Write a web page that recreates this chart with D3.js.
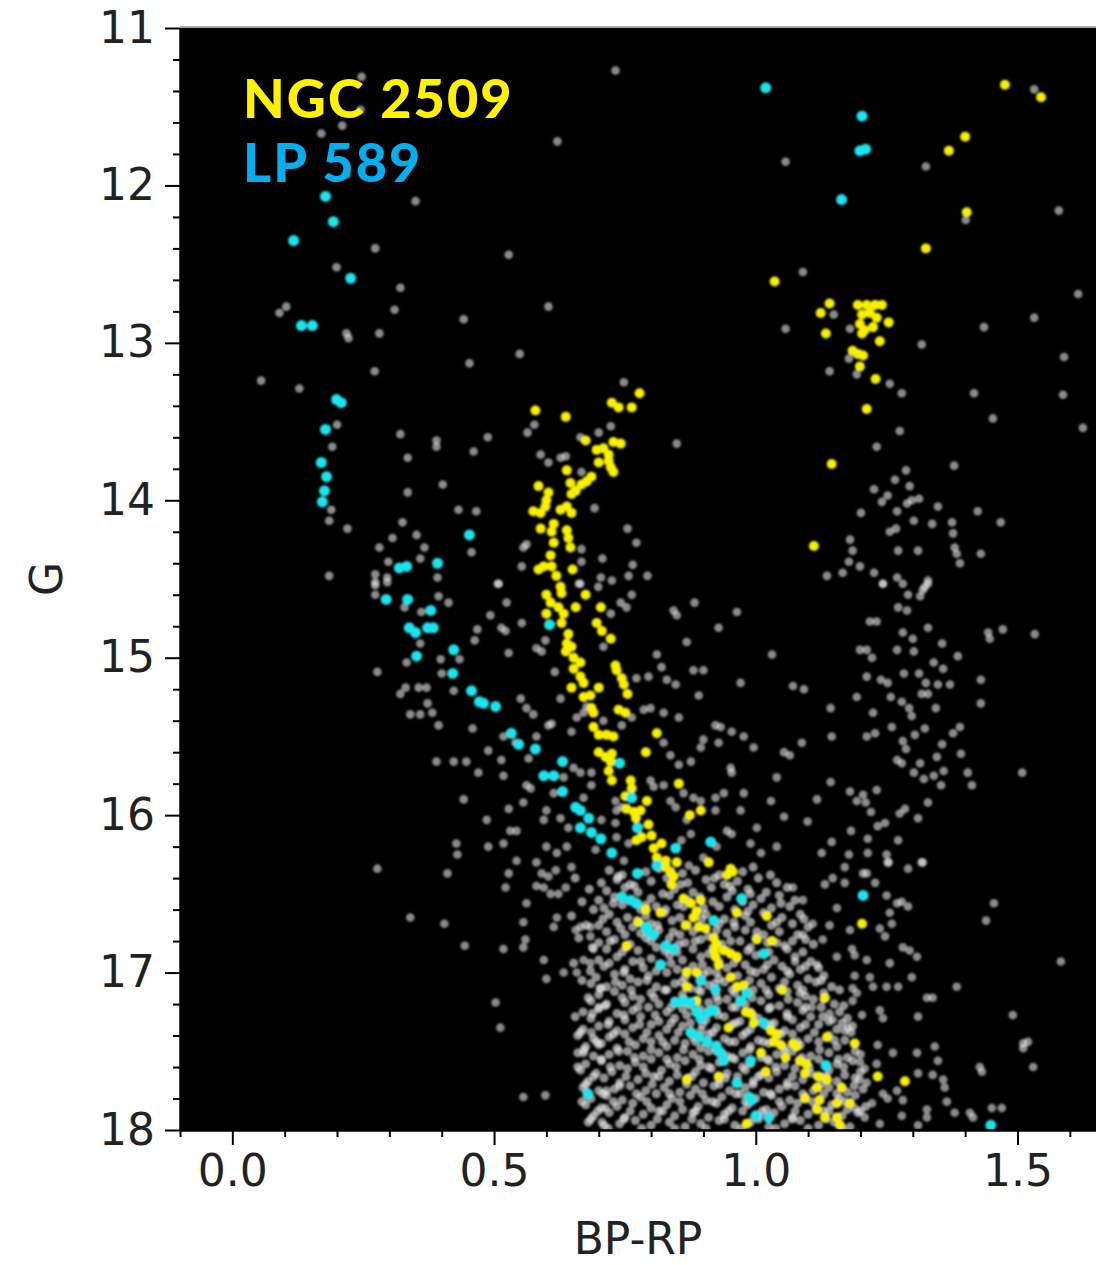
<!DOCTYPE html>
<html>
<head>
<meta charset="utf-8">
<script src="https://cdn.jsdelivr.net/npm/d3@7"></script>
<style>
  body { margin: 0; background: #fff; }
  .axis text { font-family: "DejaVu Sans", sans-serif; font-size: 44px; fill: #222; }
  .axis path, .axis line { stroke: #000; stroke-width: 2px; }
</style>
</head>
<body>
<div id="cmd"></div>
<script>
// Colour-magnitude diagram: BP-RP vs G
var xTicks = [0.0, 0.5, 1.0, 1.5];
var yTicks = [11, 12, 13, 14, 15, 16, 17, 18];
var legendNames = ["NGC 2509", "LP 589"];

// field stars (grey), [BP-RP, G]
var fieldStars = [
  [0.247,11.31],[0.245,11.52],[0.21,11.62],[0.17,11.67],[0.218,11.93],[0.35,12.10],[0.273,12.40],[0.199,12.52],[0.321,12.65],[0.103,12.77],[0.31,12.79],
  [0.732,11.27],[0.621,11.72],[1.057,11.85],[0.528,12.44],[0.604,12.77],
  [1.532,11.39],[1.325,11.88],[1.401,12.22],[1.579,12.16],[1.09,12.55],[1.616,12.69],
  [0.09,12.81],[0.442,12.85],[0.218,12.94],[0.222,12.97],[0.281,12.94],[0.453,13.13],[0.272,13.18],[0.055,13.24],[0.128,13.29],[0.20,13.52],[0.321,13.58],[0.39,13.62],[0.39,13.66],[0.461,13.69],[0.191,13.66],[0.335,13.73],[0.402,13.90],[0.335,13.95],[0.189,14.06],[0.185,14.13],[0.22,14.18],[0.432,14.06],[0.466,14.07],[0.325,14.14],[0.306,14.24],[0.352,14.22],[0.281,14.30],[0.367,14.30],[0.457,14.33],[0.298,14.39],[0.359,14.37],[0.185,14.48],[0.273,14.47],[0.273,14.52],[0.296,14.49],[0.392,14.49],
  [0.549,13.07],[1.057,12.91],[0.748,13.25],[0.488,13.60],[0.577,13.52],[0.564,13.57],[0.723,13.53],[0.70,13.57],[0.665,13.60],[0.849,13.64],[0.589,13.71],[0.604,13.76],[0.627,13.73],[0.637,13.72],[0.667,13.82],[0.692,14.05],[0.755,14.18],[0.772,14.27],[0.556,14.30],[0.562,14.28],[0.553,14.42],[0.667,14.31],[0.667,14.39],[0.707,14.37],[0.765,14.41],[0.704,14.49],[0.725,14.51],[0.757,14.48],[0.793,14.48],[0.507,14.53],[0.662,14.53],
  [1.149,12.82],[1.18,12.91],[1.436,12.90],[1.532,12.84],[1.317,13.01],[1.178,13.10],[1.141,13.18],[1.193,13.20],[1.256,13.26],[1.279,13.32],[1.417,13.32],[1.589,13.09],[1.587,13.33],[1.453,13.48],[1.625,13.54],[1.275,13.56],[1.231,13.66],[1.379,13.78],[1.287,13.81],[1.266,13.87],[1.294,13.91],[1.226,13.93],[1.252,13.97],[1.241,14.01],[1.289,14.02],[1.298,14.00],[1.312,13.99],[1.348,14.04],[1.27,14.07],[1.201,14.08],[1.302,14.13],[1.337,14.15],[1.375,14.14],[1.424,14.07],[1.468,14.14],[1.256,14.20],[1.268,14.18],[1.377,14.21],[1.18,14.25],[1.185,14.32],[1.272,14.32],[1.31,14.32],[1.38,14.30],[1.384,14.34],[1.39,14.40],[1.43,14.34],[1.178,14.39],[1.199,14.42],[1.136,14.48],[1.166,14.46],[1.226,14.46],[1.243,14.53],[1.27,14.49],[1.281,14.53],[1.329,14.51],[1.323,14.55],
  [0.273,14.54],[0.273,14.60],[0.296,14.52],[0.329,14.68],[0.361,14.71],[0.394,14.61],[0.413,14.65],[0.468,14.82],[0.463,14.89],[0.359,14.91],[0.333,15.03],[0.277,15.09],[0.398,15.01],[0.434,15.01],[0.40,15.10],[0.423,15.21],[0.331,15.19],[0.321,15.23],[0.356,15.19],[0.371,15.19],[0.373,15.29],[0.382,15.35],[0.34,15.36],[0.359,15.36],[0.394,15.43],[0.459,15.45],[0.39,15.66],[0.423,15.66],[0.447,15.66],[0.47,15.73],[0.442,15.90],[0.428,16.18],[0.43,16.25],[0.277,16.34],
  [0.509,14.53],[0.524,14.65],[0.493,14.73],[0.553,14.78],[0.514,14.81],[0.522,14.83],[0.665,14.53],[0.699,14.55],[0.742,14.65],[0.753,14.68],[0.763,14.60],[0.723,14.72],[0.843,14.70],[0.849,14.73],[0.883,14.65],[0.964,14.71],[0.929,14.81],[0.868,14.90],[1.031,14.98],[0.528,14.97],[0.581,14.94],[0.591,14.96],[0.598,14.89],[0.709,14.93],[0.811,14.98],[0.82,15.06],[0.795,15.12],[0.772,15.13],[0.83,15.14],[0.847,15.17],[0.881,15.08],[0.90,15.08],[0.891,15.24],[0.971,15.16],[0.616,15.09],[0.627,15.26],[0.551,15.26],[0.562,15.32],[0.575,15.36],[0.604,15.43],[0.61,15.42],[0.648,15.47],[0.658,15.38],[0.671,15.35],[0.677,15.31],[0.709,15.40],[0.744,15.43],[0.763,15.38],[0.786,15.33],[0.799,15.32],[0.824,15.35],[0.853,15.38],[0.923,15.43],[0.933,15.44],[0.954,15.47],[0.996,15.57],[1.054,15.60],[0.977,15.50],[0.929,15.54],[0.90,15.52],[0.895,15.57],[0.876,15.66],[0.837,15.62],[0.853,15.68],[0.824,15.54],[0.489,15.59],[0.514,15.65],[0.566,15.64],[0.541,15.54],[0.518,15.50],[0.581,15.50],[0.562,15.81],[0.57,15.83],[0.518,15.75],[0.652,15.70],[0.665,15.73],[0.633,15.76],[0.686,15.73],[0.686,15.81],[0.671,15.89],[0.732,15.91],[0.744,15.95],[0.734,15.97],[0.799,15.78],[0.805,15.82],[0.824,15.81],[0.837,15.91],[0.847,15.95],[0.862,15.86],[0.881,15.89],[0.895,15.91],[0.923,15.89],[0.923,15.97],[0.939,15.86],[0.952,15.70],[0.954,15.73],[0.977,15.86],[1.029,15.91],[1.04,15.76],[1.054,16.01],[1.002,16.08],[0.971,15.97],[0.945,16.10],[0.954,16.12],[0.868,16.03],[0.876,16.12],[0.858,16.16],[0.925,16.20],[0.99,16.18],[1.01,16.24],[1.04,16.20],[0.90,16.27],[0.872,16.32],[0.734,16.14],[0.757,16.18],[0.748,16.29],[0.694,16.22],[0.639,16.20],[0.60,16.20],[0.62,16.24],[0.581,16.30],[0.543,16.29],[0.518,16.18],[0.489,16.20],[0.531,16.10],[0.543,16.10],[0.486,16.03],[0.528,15.96],[0.556,15.92],[0.60,15.97],[0.627,16.02],[0.614,15.86],[0.595,16.03],[0.642,16.08],[0.732,16.05],[0.705,16.03],
  [1.243,14.53],[1.329,14.53],[1.319,14.57],[1.314,14.61],[1.291,14.60],[1.272,14.68],[1.289,14.70],[1.218,14.77],[1.231,14.77],[1.281,14.84],[1.329,14.81],[1.30,14.88],[1.356,14.91],[1.444,14.84],[1.447,14.88],[1.472,14.82],[1.533,14.85],[1.199,14.95],[1.212,14.95],[1.27,14.95],[1.302,14.96],[1.222,15.00],[1.34,15.03],[1.358,15.07],[1.386,14.99],[1.212,15.12],[1.239,15.14],[1.252,15.16],[1.283,15.10],[1.312,15.10],[1.325,15.16],[1.348,15.17],[1.371,15.17],[1.43,15.14],[1.317,15.23],[1.329,15.23],[1.071,15.18],[1.092,15.20],[1.193,15.25],[1.258,15.25],[1.279,15.28],[1.293,15.32],[1.298,15.37],[1.344,15.32],[1.43,15.29],[1.143,15.32],[1.224,15.35],[1.26,15.44],[1.323,15.45],[1.304,15.49],[1.377,15.48],[1.39,15.44],[1.212,15.50],[1.228,15.48],[1.145,15.50],[1.088,15.54],[1.065,15.62],[1.281,15.53],[1.287,15.58],[1.356,15.55],[1.346,15.63],[1.392,15.61],[1.27,15.65],[1.279,15.67],[1.314,15.67],[1.302,15.73],[1.321,15.77],[1.34,15.75],[1.359,15.72],[1.405,15.73],[1.354,15.81],[1.413,15.81],[1.509,15.73],[1.143,15.79],[1.18,15.85],[1.193,15.91],[1.205,15.87],[1.21,15.92],[1.231,15.84],[1.117,15.90],[1.22,15.98],[1.275,15.99],[1.285,15.96],[1.329,15.92],[1.31,16.02],[1.099,16.04],[1.233,16.07],[1.247,16.05],[1.182,16.10],[1.145,16.17],[1.214,16.15],[1.272,16.16],[1.126,16.24],[1.178,16.25],[1.214,16.24],[1.25,16.25],[1.252,16.30],[1.317,16.30],[1.17,16.33],[1.291,16.34],
  [0.411,16.37],[0.34,16.65],[0.405,16.69],[0.444,16.83],
  [0.528,16.37],[0.522,16.46],[0.591,16.37],[0.604,16.39],[0.618,16.35],[0.648,16.33],[0.581,16.45],[0.595,16.46],[0.608,16.50],[0.623,16.50],[0.637,16.46],[0.562,16.56],[0.556,16.68],[0.56,16.79],[0.556,16.84],[0.518,16.85],[0.595,16.92],[0.60,17.04],[0.633,17.00],[0.614,16.71],[0.62,16.65],[0.656,16.73],[0.665,16.71],[0.684,16.71],[0.684,16.77],[0.69,16.85],[0.671,16.92],[0.684,16.94],[0.658,17.00],[0.702,17.10],[0.70,17.22],[0.503,17.19],[0.512,17.35],[0.686,17.38],[0.671,17.51],[0.70,17.46],[0.556,17.79],[0.598,17.78],[0.715,17.75],[0.713,17.86],[0.706,17.95],
  [1.205,16.37],[1.212,16.37],[1.254,16.30],[1.319,16.30],[1.147,16.40],[1.132,16.44],[1.17,16.43],[1.09,16.54],[1.155,16.59],[1.071,16.46],[1.228,16.43],[1.25,16.51],[1.27,16.56],[1.279,16.55],[1.291,16.58],[1.256,16.62],[1.26,16.69],[1.237,16.72],[1.247,16.77],[1.18,16.73],[1.141,16.70],[1.109,16.69],[1.128,16.79],[1.09,16.76],[1.184,16.85],[1.189,16.89],[1.212,16.92],[1.256,16.94],[1.281,16.84],[1.294,16.86],[1.308,16.90],[1.075,16.93],[1.117,16.95],[1.155,16.90],[1.189,17.02],[1.218,17.03],[1.185,17.10],[1.193,17.13],[1.185,17.18],[1.224,17.09],[1.25,17.09],[1.272,17.09],[1.298,17.03],[1.327,17.16],[1.338,17.16],[1.384,17.09],[1.455,16.56],[1.44,16.67],[1.583,16.93],[1.084,17.13],[1.107,17.22],[1.141,17.26],[1.147,17.30],[1.203,17.27],[1.17,17.37],[1.176,17.35],[1.237,17.24],[1.243,17.29],[1.31,17.28],[1.233,17.46],[1.262,17.51],[1.308,17.51],[1.342,17.47],[1.348,17.56],[1.31,17.64],[1.338,17.65],[1.358,17.68],[1.361,17.73],[1.199,17.57],[1.208,17.61],[1.231,17.58],[1.212,17.70],[1.243,17.77],[1.252,17.80],[1.27,17.75],[1.281,17.81],[1.222,17.83],[1.189,17.86],[1.208,17.92],[1.237,17.96],[1.279,17.91],[1.327,17.87],[1.327,17.92],[1.31,17.97],[1.365,17.82],[1.38,17.89],[1.409,17.89],[1.415,17.92],[1.428,17.60],[1.432,17.63],[1.451,17.86],[1.47,17.86],[1.491,17.27],[1.511,17.45],[1.52,17.44],[1.511,17.48],[1.53,17.60]
];

// crowded lower main sequence of the field (grey), [BP-RP, G]
var fieldDense = [
  [0.72,16.35],[0.745,16.38],[0.79,16.36],[0.815,16.34],[0.86,16.37],[0.885,16.35],[0.93,16.38],[0.975,16.36],[0.995,16.33],
  [0.705,16.43],[0.735,16.41],[0.76,16.44],[0.80,16.42],[0.83,16.40],[0.87,16.43],[0.905,16.41],[0.94,16.44],[0.965,16.42],[1.005,16.40],[1.04,16.43],
  [0.715,16.48],[0.75,16.46],[0.775,16.49],[0.845,16.47],[0.88,16.49],[0.915,16.46],[0.955,16.48],[0.985,16.47],[1.02,16.49],[1.06,16.46],
  [0.70,16.54],[0.73,16.52],[0.765,16.55],[0.80,16.53],[0.835,16.51],[0.87,16.54],[0.945,16.52],[0.975,16.55],[1.01,16.53],[1.045,16.51],[1.075,16.54],
  [0.71,16.59],[0.745,16.57],[0.78,16.60],[0.81,16.58],[0.85,16.57],[0.90,16.59],[0.93,16.58],[0.96,16.60],[0.995,16.57],[1.03,16.59],[1.065,16.58],
  [0.72,16.63],[0.755,16.65],[0.79,16.64],[0.825,16.62],[0.855,16.65],[0.905,16.63],[0.94,16.66],[0.98,16.64],[1.015,16.62],[1.05,16.65],[1.085,16.63],
  [0.70,16.70],[0.735,16.68],[0.765,16.71],[0.80,16.69],[0.84,16.67],[0.87,16.70],[0.93,16.69],[0.96,16.71],[0.99,16.68],[1.03,16.70],[1.07,16.69],[1.10,16.71],
  [0.715,16.74],[0.75,16.76],[0.78,16.75],[0.815,16.73],[0.855,16.76],[0.88,16.74],[0.91,16.77],[0.945,16.75],[0.98,16.73],[1.015,16.76],[1.045,16.74],[1.08,16.76],
  [0.70,16.81],[0.73,16.79],[0.76,16.82],[0.80,16.80],[0.835,16.78],[0.865,16.81],[0.895,16.79],[0.935,16.82],[0.97,16.80],[1.00,16.78],[1.04,16.81],[1.07,16.80],[1.11,16.82],
  [0.715,16.85],[0.745,16.87],[0.775,16.86],[0.81,16.84],[0.85,16.87],[0.88,16.85],[0.91,16.88],[0.945,16.86],[0.99,16.84],[1.025,16.87],[1.06,16.85],[1.09,16.87],
  [0.70,16.92],[0.735,16.90],[0.765,16.93],[0.80,16.91],[0.835,16.89],[0.86,16.92],[0.895,16.90],[0.93,16.93],[0.965,16.91],[1.00,16.89],[1.035,16.92],[1.075,16.90],[1.105,16.93],
  [0.71,16.96],[0.75,16.98],[0.785,16.97],[0.82,16.95],[0.85,16.98],[0.88,16.96],[0.91,16.99],[0.945,16.97],[0.98,16.95],[1.015,16.98],[1.05,16.96],[1.085,16.98],[1.12,16.97],
  [0.695,17.03],[0.73,17.01],[0.76,17.04],[0.795,17.02],[0.83,17.00],[0.865,17.03],[0.90,17.01],[0.93,17.04],[0.965,17.02],[1.00,17.00],[1.03,17.03],[1.065,17.01],[1.10,17.04],[1.13,17.02],
  [0.685,17.07],[0.715,17.09],[0.745,17.08],[0.775,17.06],[0.81,17.09],[0.845,17.07],[0.875,17.10],[0.91,17.08],[0.94,17.06],[0.975,17.09],[1.01,17.07],[1.045,17.10],[1.08,17.08],[1.115,17.06],[1.145,17.09],
  [0.70,17.14],[0.73,17.12],[0.765,17.15],[0.80,17.13],[0.83,17.11],[0.86,17.14],[0.895,17.12],[0.925,17.15],[0.96,17.13],[0.995,17.11],[1.025,17.14],[1.06,17.12],[1.095,17.15],[1.13,17.13],[1.16,17.11],
  [0.685,17.18],[0.715,17.20],[0.75,17.19],[0.78,17.17],[0.815,17.20],[0.845,17.18],[0.875,17.21],[0.91,17.19],[0.945,17.17],[0.98,17.20],[1.01,17.18],[1.045,17.21],[1.08,17.19],[1.11,17.17],[1.15,17.20],
  [0.67,17.25],[0.70,17.23],[0.735,17.26],[0.765,17.24],[0.795,17.22],[0.83,17.25],[0.86,17.23],[0.89,17.26],[0.925,17.24],[0.955,17.22],[0.99,17.25],[1.025,17.23],[1.06,17.26],[1.09,17.24],[1.125,17.22],[1.16,17.25],
  [0.685,17.29],[0.72,17.31],[0.75,17.30],[0.78,17.28],[0.815,17.31],[0.845,17.29],[0.875,17.32],[0.905,17.30],[0.94,17.28],[0.97,17.31],[1.005,17.29],[1.035,17.32],[1.07,17.30],[1.105,17.28],[1.14,17.31],[1.175,17.29],
  [0.67,17.36],[0.70,17.34],[0.735,17.37],[0.765,17.35],[0.80,17.33],[0.83,17.36],[0.86,17.34],[0.895,17.37],[0.925,17.35],[0.955,17.33],[0.99,17.36],[1.02,17.34],[1.055,17.37],[1.085,17.35],[1.12,17.33],[1.155,17.36],[1.185,17.34],
  [0.66,17.40],[0.69,17.42],[0.72,17.41],[0.75,17.39],[0.785,17.42],[0.815,17.40],[0.845,17.43],[0.88,17.41],[0.91,17.39],[0.94,17.42],[0.975,17.40],[1.005,17.43],[1.04,17.41],[1.07,17.39],[1.10,17.42],[1.14,17.40],[1.17,17.43],
  [0.675,17.47],[0.705,17.45],[0.735,17.48],[0.77,17.46],[0.80,17.44],[0.83,17.47],[0.865,17.45],[0.895,17.48],[0.925,17.46],[0.96,17.44],[0.99,17.47],[1.025,17.45],[1.055,17.48],[1.085,17.46],[1.12,17.44],[1.155,17.47],[1.19,17.45],
  [0.66,17.51],[0.69,17.53],[0.72,17.52],[0.755,17.50],[0.785,17.53],[0.815,17.51],[0.85,17.54],[0.88,17.52],[0.91,17.50],[0.945,17.53],[0.975,17.51],[1.01,17.54],[1.04,17.52],[1.07,17.50],[1.105,17.53],[1.14,17.51],[1.175,17.54],[1.20,17.52],
  [0.675,17.58],[0.705,17.56],[0.74,17.59],[0.77,17.57],[0.80,17.55],[0.835,17.58],[0.865,17.56],[0.895,17.59],[0.93,17.57],[0.96,17.55],[0.99,17.58],[1.025,17.56],[1.055,17.59],[1.09,17.57],[1.12,17.55],[1.155,17.58],[1.185,17.56],
  [0.665,17.62],[0.695,17.64],[0.725,17.63],[0.755,17.61],[0.79,17.64],[0.82,17.62],[0.85,17.65],[0.885,17.63],[0.915,17.61],[0.945,17.64],[0.98,17.62],[1.01,17.65],[1.04,17.63],[1.075,17.61],[1.105,17.64],[1.14,17.62],[1.17,17.65],[1.20,17.63],
  [0.68,17.69],[0.71,17.67],[0.74,17.70],[0.775,17.68],[0.805,17.66],[0.835,17.69],[0.87,17.67],[0.90,17.70],[0.93,17.68],[0.965,17.66],[0.995,17.69],[1.025,17.67],[1.06,17.70],[1.09,17.68],[1.125,17.66],[1.155,17.69],[1.19,17.67],
  [0.67,17.73],[0.70,17.75],[0.73,17.74],[0.76,17.72],[0.79,17.75],[0.825,17.73],[0.855,17.76],[0.885,17.74],[0.92,17.72],[0.95,17.75],[0.98,17.73],[1.015,17.76],[1.045,17.74],[1.075,17.72],[1.11,17.75],[1.14,17.73],[1.175,17.76],[1.205,17.74],
  [0.685,17.80],[0.715,17.78],[0.745,17.81],[0.78,17.79],[0.81,17.77],[0.84,17.80],[0.875,17.78],[0.905,17.81],[0.935,17.79],[0.97,17.77],[1.00,17.80],[1.03,17.78],[1.065,17.81],[1.095,17.79],[1.13,17.77],[1.16,17.80],[1.19,17.78],
  [0.675,17.84],[0.705,17.86],[0.735,17.85],[0.765,17.83],[0.80,17.86],[0.83,17.84],[0.86,17.87],[0.89,17.85],[0.925,17.83],[0.955,17.86],[0.985,17.84],[1.02,17.87],[1.05,17.85],[1.08,17.83],[1.115,17.86],[1.145,17.84],[1.175,17.87],[1.21,17.85],
  [0.69,17.91],[0.72,17.89],[0.75,17.92],[0.785,17.90],[0.815,17.88],[0.845,17.91],[0.88,17.89],[0.91,17.92],[0.94,17.90],[0.975,17.88],[1.005,17.91],[1.035,17.89],[1.07,17.92],[1.10,17.90],[1.13,17.88],[1.165,17.91],[1.195,17.89],
  [0.68,17.95],[0.71,17.97],[0.74,17.96],[0.77,17.94],[0.80,17.97],[0.835,17.95],[0.865,17.98],[0.895,17.96],[0.93,17.94],[0.96,17.97],[0.99,17.95],[1.025,17.98],[1.055,17.96],[1.085,17.94],[1.12,17.97],[1.15,17.95],[1.18,17.98]
];

// more crowded field stars filling the gaps of the lower cloud (grey)
var fieldDense2 = [
  [0.655,16.40],[0.682,16.47],[0.737,16.39],[0.768,16.45],[0.822,16.50],[0.857,16.44],[0.893,16.52],[0.921,16.40],[0.951,16.45],[0.99,16.50],[1.028,16.38],[0.668,16.55],[0.69,16.60],[0.728,16.56],[0.79,16.57],[0.828,16.60],[0.862,16.58],[0.918,16.55],[0.985,16.61],[1.048,16.56],
  [0.648,16.64],[0.676,16.70],[0.708,16.66],[0.742,16.72],[0.773,16.67],[0.812,16.70],[0.842,16.74],[0.897,16.66],[0.925,16.73],[0.958,16.68],[1.002,16.74],[1.04,16.68],[1.092,16.66],[0.662,16.78],[0.688,16.84],[0.722,16.80],[0.753,16.84],[0.79,16.78],[0.826,16.86],[0.853,16.82],[0.884,16.80],[0.918,16.84],[0.952,16.80],[0.985,16.86],[1.022,16.81],[1.055,16.83],[1.095,16.79],
  [0.652,16.94],[0.684,16.99],[0.72,16.94],[0.748,17.00],[0.78,16.93],[0.81,16.99],[0.838,16.94],[0.868,16.99],[0.898,16.95],[0.925,17.00],[0.958,16.94],[0.99,16.99],[1.022,16.95],[1.06,16.99],[1.095,16.96],[0.668,17.05],[0.704,17.10],[0.732,17.06],[0.762,17.11],[0.792,17.05],[0.826,17.11],[0.858,17.06],[0.89,17.11],[0.922,17.07],[0.955,17.11],[0.988,17.05],[1.02,17.11],[1.055,17.06],[1.09,17.11],[1.125,17.05],[0.68,17.16],[0.712,17.21],[0.745,17.16],[0.775,17.22],[0.806,17.16],[0.838,17.22],[0.862,17.17],[0.893,17.23],[0.928,17.18],[0.962,17.22],[0.993,17.16],[1.028,17.22],[1.062,17.17],[1.095,17.22],[1.13,17.17],[1.168,17.21],
  [0.655,17.28],[0.688,17.26],[0.718,17.33],[0.748,17.27],[0.778,17.33],[0.808,17.27],[0.838,17.32],[0.868,17.27],[0.898,17.33],[0.928,17.27],[0.962,17.32],[0.995,17.27],[1.028,17.33],[1.06,17.28],[1.095,17.33],[1.128,17.28],[1.165,17.32],[0.665,17.38],[0.696,17.44],[0.728,17.39],[0.758,17.44],[0.792,17.38],[0.822,17.44],[0.852,17.38],[0.885,17.44],[0.918,17.38],[0.95,17.44],[0.982,17.38],[1.015,17.44],[1.048,17.39],[1.08,17.44],[1.112,17.38],[1.15,17.43],[1.182,17.38],
  [0.672,17.49],[0.705,17.55],[0.738,17.50],[0.768,17.54],[0.80,17.49],[0.83,17.55],[0.862,17.49],[0.892,17.55],[0.925,17.50],[0.955,17.54],[0.988,17.49],[1.022,17.55],[1.055,17.50],[1.088,17.54],[1.122,17.49],[1.158,17.55],[1.19,17.50],[0.66,17.60],[0.69,17.66],[0.722,17.60],[0.752,17.66],[0.785,17.60],[0.815,17.66],[0.848,17.60],[0.878,17.66],[0.91,17.60],[0.942,17.67],[0.975,17.60],[1.005,17.66],[1.038,17.60],[1.07,17.66],[1.102,17.60],[1.135,17.66],[1.168,17.60],[1.198,17.68],[0.675,17.71],[0.708,17.77],[0.74,17.72],[0.772,17.77],[0.802,17.71],[0.835,17.77],[0.868,17.71],[0.898,17.77],[0.93,17.71],[0.962,17.77],[0.995,17.71],[1.028,17.77],[1.06,17.72],[1.09,17.77],[1.125,17.71],[1.155,17.77],[1.188,17.72],
  [0.668,17.82],[0.698,17.88],[0.728,17.82],[0.76,17.88],[0.792,17.82],[0.822,17.88],[0.855,17.82],[0.885,17.88],[0.918,17.82],[0.948,17.88],[0.98,17.82],[1.012,17.88],[1.045,17.82],[1.075,17.88],[1.108,17.82],[1.14,17.88],[1.17,17.82],[1.20,17.88],[0.685,17.93],[0.718,17.99],[0.748,17.93],[0.782,17.99],[0.812,17.93],[0.845,17.99],[0.878,17.93],[0.905,17.99],[0.94,17.93],[0.972,17.99],[1.005,17.93],[1.038,17.99],[1.07,17.93],[1.10,17.99],[1.135,17.93],[1.165,17.99]
];

// NGC 2509 members (yellow)
var ngc2509 = [
  [1.036,12.61],[1.476,11.36],[1.545,11.44],[1.40,11.69],[1.369,11.78],[1.403,12.17],[1.325,12.40],[1.141,12.75],[1.195,12.76],[1.212,12.76],[1.228,12.76],[1.241,12.76],[1.124,12.81],
  [1.203,12.82],[1.218,12.81],[1.231,12.84],[1.254,12.87],[1.199,12.88],[1.224,12.90],[1.208,12.92],[1.203,12.94],[1.134,12.94],[1.237,12.99],[1.185,13.05],[1.195,13.07],[1.205,13.08],[1.199,13.15],[1.229,13.23],[1.212,13.42],[1.145,13.77],[1.111,14.29],
  [0.778,13.32],[0.725,13.38],[0.738,13.41],[0.763,13.41],[0.579,13.43],[0.637,13.47],[0.675,13.62],[0.728,13.63],[0.742,13.64],[0.696,13.68],[0.709,13.67],[0.719,13.71],[0.70,13.76],[0.719,13.75],[0.723,13.79],[0.728,13.82],[0.639,13.81],[0.686,13.85],[0.667,13.90],[0.677,13.88],[0.646,13.89],[0.656,13.94],[0.648,13.96],[0.585,13.91],[0.604,13.95],[0.60,14.0],[0.598,14.04],[0.575,14.07],[0.589,14.08],[0.627,14.06],[0.639,14.04],[0.648,14.08],[0.589,14.18],[0.614,14.15],[0.61,14.20],[0.639,14.19],[0.642,14.24],[0.614,14.27],[0.646,14.30],[0.608,14.35],[0.585,14.44],[0.595,14.42],[0.61,14.42],[0.619,14.48],[0.65,14.44],[0.627,14.55],
  [0.60,14.60],[0.608,14.65],[0.623,14.68],[0.629,14.59],[0.60,14.72],[0.633,14.72],[0.656,14.68],[0.675,14.60],[0.704,14.68],[0.696,14.78],[0.706,14.83],[0.723,14.88],[0.629,14.78],[0.642,14.85],[0.639,14.91],[0.648,14.93],[0.637,14.96],[0.652,15.00],[0.665,15.03],[0.652,15.07],[0.665,15.12],[0.671,15.16],[0.648,15.19],[0.70,15.19],[0.671,15.25],[0.684,15.24],[0.686,15.32],[0.69,15.35],[0.732,15.05],[0.734,15.08],[0.744,15.13],[0.748,15.17],[0.755,15.23],[0.738,15.33],[0.751,15.35],[0.69,15.44],[0.70,15.49],[0.715,15.49],[0.728,15.50],[0.811,15.48],[0.70,15.60],[0.713,15.63],[0.725,15.61],[0.723,15.66],[0.79,15.60],[0.719,15.72],[0.725,15.78],[0.761,15.78],[0.763,15.83],[0.853,15.80],[0.751,15.88],[0.792,15.91],[0.753,15.96],[0.767,15.98],[0.78,15.97],[0.771,16.02],[0.874,16.00],[0.895,15.97],[0.795,16.06],[0.782,16.14],[0.801,16.13],[0.772,16.16],[0.82,16.18],[0.805,16.21],[0.811,16.27],[0.828,16.29],[0.849,16.30],[0.91,16.30],[0.952,16.34],
  [0.828,16.33],[0.837,16.36],[0.843,16.39],[0.839,16.44],[0.945,16.38],[0.956,16.36],[0.862,16.53],[0.876,16.56],[0.887,16.61],[0.881,16.65],[0.895,16.54],[0.866,16.70],[0.891,16.71],[0.904,16.72],[0.79,16.60],[0.818,16.62],[0.776,16.68],[0.964,16.62],[1.021,16.64],[0.92,16.78],[0.925,16.82],[0.92,16.86],[0.923,16.90],[0.929,16.95],[0.939,16.86],[0.952,16.88],[0.964,16.90],[1.002,16.79],[1.031,16.80],[0.753,16.83],[0.868,17.00],[0.887,17.00],[0.952,17.03],[0.964,17.09],[0.977,17.08],[0.981,17.25],[0.99,17.26],[0.996,17.32],[0.948,17.35],[1.029,17.37],[1.04,17.39],[1.034,17.44],[1.048,17.46],[1.01,17.51],[1.05,17.11],[0.887,17.18],[0.868,17.09],[1.057,17.54],[1.019,17.63],[0.868,17.68],[0.929,17.66],[0.983,17.96],
  [1.203,16.69],[1.132,17.16],[1.136,17.41],[1.189,17.45],[1.233,17.66],[1.285,17.69],[1.071,17.45],[1.078,17.47],[1.084,17.56],[1.097,17.58],[1.094,17.64],[1.119,17.66],[1.136,17.68],[1.117,17.73],[1.164,17.73],[1.094,17.80],[1.122,17.81],[1.155,17.83],[1.18,17.83],[1.117,17.87],[1.132,17.92],[1.155,17.92],[1.161,17.97]
];

// LP 589 members (cyan)
var lp589 = [
  [0.178,12.07],[0.193,12.23],[0.117,12.35],[0.226,12.59],[1.019,11.38],[1.203,11.56],[1.199,11.78],[1.21,11.77],[1.164,12.09],
  [0.132,12.89],[0.153,12.89],[0.199,13.36],[0.208,13.38],[0.178,13.55],[0.17,13.76],[0.18,13.85],[0.176,13.94],[0.172,14.01],[0.453,14.22],[0.319,14.43],[0.333,14.42],[0.392,14.40],
  [0.294,14.63],[0.335,14.63],[0.379,14.70],[0.338,14.81],[0.35,14.84],[0.373,14.81],[0.384,14.81],[0.352,14.99],[0.423,14.95],[0.421,15.10],[0.457,15.21],[0.472,15.28],
  [0.606,14.79],[0.48,15.29],[0.503,15.31],[0.533,15.48],[0.547,15.55],[0.579,15.58],[0.631,15.66],[0.595,15.75],[0.614,15.75],[0.631,15.85],[0.656,15.95],[0.665,15.97],[0.681,16.02],[0.665,16.08],[0.686,16.11],[0.704,16.15],[0.725,16.24],[0.74,15.67],[0.763,15.89],[0.774,16.08],[0.847,16.21],[0.811,16.32],[0.914,16.17],
  [0.774,16.37],[0.744,16.52],[0.761,16.54],[0.772,16.56],[0.79,16.71],[0.795,16.74],[0.805,16.76],[0.828,16.83],[0.843,16.85],[0.818,16.95],[0.92,16.67],[0.973,16.53],[1.015,16.88],[0.847,17.19],[0.862,17.18],[0.876,17.19],[0.887,17.25],[0.895,17.29],[0.91,17.25],[0.92,17.24],[0.895,17.05],[0.923,17.11],[0.971,17.18],[0.983,17.13],[0.876,17.38],[0.891,17.41],[0.907,17.44],[0.925,17.47],[0.933,17.51],[0.939,17.56],[0.99,17.56],[1.015,17.32],[0.964,17.70],[0.987,17.79],[0.992,17.81],[1.0,17.91],[1.025,17.92],[0.679,17.77],
  [1.205,16.51],[1.134,17.59],[1.449,17.97]
];

var svgWidth = 1096;
var svgHeight = 1265;
var margin = { top: 28, right: 0, bottom: 135, left: 180 };
var width = svgWidth - margin.left - margin.right;
var height = svgHeight - margin.top - margin.bottom;

var svg = d3.select("#cmd")
  .append("svg")
  .attr("width", svgWidth)
  .attr("height", svgHeight);

var defs = svg.append("defs");
defs.append("clipPath").attr("id", "plotclip")
  .append("rect").attr("width", width).attr("height", height);
defs.append("filter").attr("id", "soft")
  .attr("x", "-50%").attr("y", "-50%").attr("width", "200%").attr("height", "200%")
  .append("feGaussianBlur").attr("stdDeviation", 1);

var chart = svg.append("g")
  .attr("transform", `translate(${margin.left}, ${margin.top})`);

var xScale = d3.scaleLinear().domain([-0.1, 1.65]).range([0, width]);
var yScale = d3.scaleLinear().domain([11, 18]).range([0, height]);

// black plot background + thin top spine
chart.append("rect")
  .attr("width", width)
  .attr("height", height)
  .attr("fill", "#000");
chart.append("line")
  .attr("x1", 0).attr("x2", width)
  .attr("y1", -1).attr("y2", -1)
  .attr("stroke", "#888").attr("stroke-width", 1.5);

var dots = chart.append("g")
  .attr("clip-path", "url(#plotclip)")
  .append("g")
  .attr("filter", "url(#soft)");

function drawStars(data, r, fill, opacity) {
  dots.append("g").selectAll("circle")
    .data(data)
    .enter()
    .append("circle")
    .attr("cx", d => xScale(d[0]))
    .attr("cy", d => yScale(d[1]))
    .attr("r", r)
    .attr("fill", fill)
    .attr("fill-opacity", opacity);
}

drawStars(fieldStars, 4.3, "#e8e8e8", 0.6);
drawStars(fieldDense, 4.5, "#ececec", 0.62);
drawStars(fieldDense2, 4.5, "#ececec", 0.62);
drawStars(ngc2509, 5, "#f8f000", 1);
drawStars(lp589, 5.5, "#1ee4ec", 1);

// axes: major + minor ticks
var minorX = d3.range(-1, 17).map(d => d / 10).filter(d => xTicks.indexOf(d) < 0);
var minorY = d3.range(55, 91).map(d => d / 5).filter(d => yTicks.indexOf(d) < 0);

chart.append("g")
  .attr("class", "axis")
  .attr("transform", `translate(0, ${height})`)
  .call(d3.axisBottom(xScale).tickValues(xTicks).tickFormat(d3.format(".1f")).tickSize(15).tickPadding(10).tickSizeOuter(0));

chart.append("g")
  .attr("class", "axis")
  .attr("transform", `translate(0, ${height})`)
  .call(d3.axisBottom(xScale).tickValues(minorX).tickFormat("").tickSize(7).tickSizeOuter(0));

chart.append("g")
  .attr("class", "axis")
  .call(d3.axisLeft(yScale).tickValues(yTicks).tickFormat(d3.format("d")).tickSize(15).tickPadding(10).tickSizeOuter(0));

chart.append("g")
  .attr("class", "axis")
  .call(d3.axisLeft(yScale).tickValues(minorY).tickFormat("").tickSize(7).tickSizeOuter(0));

// axis titles
svg.append("text")
  .attr("transform", `translate(62, ${margin.top + height / 2}) rotate(-90)`)
  .attr("text-anchor", "middle")
  .style("font-family", "DejaVu Sans, sans-serif")
  .style("font-size", "44px")
  .attr("fill", "#222")
  .text("G");

svg.append("text")
  .attr("x", margin.left + width / 2)
  .attr("y", 1254)
  .attr("text-anchor", "middle")
  .style("font-family", "DejaVu Sans, sans-serif")
  .style("font-size", "44px")
  .attr("fill", "#222")
  .text("BP-RP");

// legend text
var legendColors = ["#fff200", "#05aeee"];
svg.selectAll(".legend")
  .data(legendNames)
  .enter()
  .append("text")
  .attr("class", "legend")
  .attr("x", 243)
  .attr("y", (d, i) => 118 + i * 64)
  .style("font-family", "Lato, sans-serif")
  .style("font-weight", "900")
  .style("font-size", "54px")
  .style("letter-spacing", "2px")
  .attr("fill", (d, i) => legendColors[i])
  .text(d => d);
</script>
</body>
</html>
